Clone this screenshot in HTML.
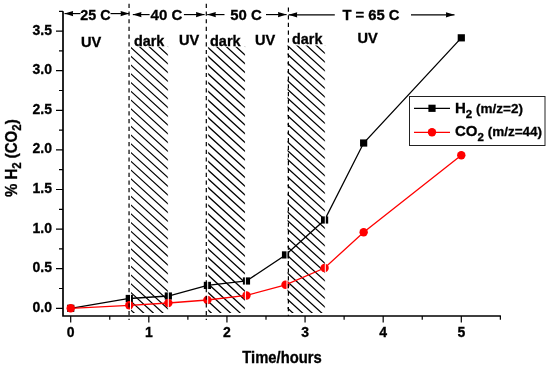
<!DOCTYPE html>
<html><head><meta charset="utf-8"><style>
html,body{margin:0;padding:0;background:#fff;width:550px;height:366px;overflow:hidden}
svg{display:block}
text{fill:#000;stroke:#000;stroke-width:0.3px}
</style></head><body>
<svg width="550" height="366" viewBox="0 0 550 366">
<rect width="550" height="366" fill="#fff"/>
<defs><clipPath id="c0"><rect x="130.5" y="46.8" width="37.80" height="266.20"/></clipPath><clipPath id="c1"><rect x="207.7" y="46.8" width="37.70" height="266.20"/></clipPath><clipPath id="c2"><rect x="287.0" y="45.6" width="38.30" height="267.40"/></clipPath></defs>
<path clip-path="url(#c0)" d="M129.50 2.54L169.30 38.76M129.50 11.29L169.30 47.51M129.50 20.04L169.30 56.26M129.50 28.79L169.30 65.01M129.50 37.54L169.30 73.76M129.50 46.29L169.30 82.51M129.50 55.04L169.30 91.26M129.50 63.79L169.30 100.01M129.50 72.54L169.30 108.76M129.50 81.29L169.30 117.51M129.50 90.04L169.30 126.26M129.50 98.79L169.30 135.01M129.50 107.54L169.30 143.76M129.50 116.29L169.30 152.51M129.50 125.04L169.30 161.26M129.50 133.79L169.30 170.01M129.50 142.54L169.30 178.76M129.50 151.29L169.30 187.51M129.50 160.04L169.30 196.26M129.50 168.79L169.30 205.01M129.50 177.54L169.30 213.76M129.50 186.29L169.30 222.51M129.50 195.04L169.30 231.26M129.50 203.79L169.30 240.01M129.50 212.54L169.30 248.76M129.50 221.29L169.30 257.51M129.50 230.04L169.30 266.26M129.50 238.79L169.30 275.01M129.50 247.54L169.30 283.76M129.50 256.29L169.30 292.51M129.50 265.04L169.30 301.26M129.50 273.79L169.30 310.01M129.50 282.54L169.30 318.76M129.50 291.29L169.30 327.51M129.50 300.04L169.30 336.26M129.50 308.79L169.30 345.01" stroke="#000" stroke-width="1.25" fill="none"/>
<path clip-path="url(#c1)" d="M206.70 2.54L246.40 38.67M206.70 11.29L246.40 47.42M206.70 20.04L246.40 56.17M206.70 28.79L246.40 64.92M206.70 37.54L246.40 73.67M206.70 46.29L246.40 82.42M206.70 55.04L246.40 91.17M206.70 63.79L246.40 99.92M206.70 72.54L246.40 108.67M206.70 81.29L246.40 117.42M206.70 90.04L246.40 126.17M206.70 98.79L246.40 134.92M206.70 107.54L246.40 143.67M206.70 116.29L246.40 152.42M206.70 125.04L246.40 161.17M206.70 133.79L246.40 169.92M206.70 142.54L246.40 178.67M206.70 151.29L246.40 187.42M206.70 160.04L246.40 196.17M206.70 168.79L246.40 204.92M206.70 177.54L246.40 213.67M206.70 186.29L246.40 222.42M206.70 195.04L246.40 231.17M206.70 203.79L246.40 239.92M206.70 212.54L246.40 248.67M206.70 221.29L246.40 257.42M206.70 230.04L246.40 266.17M206.70 238.79L246.40 274.92M206.70 247.54L246.40 283.67M206.70 256.29L246.40 292.42M206.70 265.04L246.40 301.17M206.70 273.79L246.40 309.92M206.70 282.54L246.40 318.67M206.70 291.29L246.40 327.42M206.70 300.04L246.40 336.17M206.70 308.79L246.40 344.92" stroke="#000" stroke-width="1.25" fill="none"/>
<path clip-path="url(#c2)" d="M286.00 0.44L326.30 37.11M286.00 9.19L326.30 45.86M286.00 17.94L326.30 54.61M286.00 26.69L326.30 63.36M286.00 35.44L326.30 72.11M286.00 44.19L326.30 80.86M286.00 52.94L326.30 89.61M286.00 61.69L326.30 98.36M286.00 70.44L326.30 107.11M286.00 79.19L326.30 115.86M286.00 87.94L326.30 124.61M286.00 96.69L326.30 133.36M286.00 105.44L326.30 142.11M286.00 114.19L326.30 150.86M286.00 122.94L326.30 159.61M286.00 131.69L326.30 168.36M286.00 140.44L326.30 177.11M286.00 149.19L326.30 185.86M286.00 157.94L326.30 194.61M286.00 166.69L326.30 203.36M286.00 175.44L326.30 212.11M286.00 184.19L326.30 220.86M286.00 192.94L326.30 229.61M286.00 201.69L326.30 238.36M286.00 210.44L326.30 247.11M286.00 219.19L326.30 255.86M286.00 227.94L326.30 264.61M286.00 236.69L326.30 273.36M286.00 245.44L326.30 282.11M286.00 254.19L326.30 290.86M286.00 262.94L326.30 299.61M286.00 271.69L326.30 308.36M286.00 280.44L326.30 317.11M286.00 289.19L326.30 325.86M286.00 297.94L326.30 334.61M286.00 306.69L326.30 343.36" stroke="#000" stroke-width="1.25" fill="none"/>
<polyline points="70.70,308.30 129.29,298.48 168.35,296.02 207.41,285.41 246.47,280.98 285.53,254.92 324.59,219.99 363.65,143.01 461.30,37.83" fill="none" stroke="#000" stroke-width="1.3"/>
<polyline points="70.70,308.30 129.29,305.29 168.35,302.99 207.41,299.98 246.47,295.47 285.53,284.78 324.59,267.99 363.65,232.19 461.30,155.29" fill="none" stroke="#ff0000" stroke-width="1.3"/>
<rect x="67.10" y="304.70" width="7.2" height="7.2" fill="#000"/>
<rect x="125.69" y="294.88" width="7.2" height="7.2" fill="#000"/>
<rect x="164.75" y="292.42" width="7.2" height="7.2" fill="#000"/>
<rect x="203.81" y="281.81" width="7.2" height="7.2" fill="#000"/>
<rect x="242.87" y="277.38" width="7.2" height="7.2" fill="#000"/>
<rect x="281.93" y="251.32" width="7.2" height="7.2" fill="#000"/>
<rect x="320.99" y="216.39" width="7.2" height="7.2" fill="#000"/>
<rect x="360.05" y="139.41" width="7.2" height="7.2" fill="#000"/>
<rect x="457.70" y="34.23" width="7.2" height="7.2" fill="#000"/>
<circle cx="70.70" cy="308.30" r="4.2" fill="#ff0000"/>
<circle cx="129.29" cy="305.29" r="4.2" fill="#ff0000"/>
<circle cx="168.35" cy="302.99" r="4.2" fill="#ff0000"/>
<circle cx="207.41" cy="299.98" r="4.2" fill="#ff0000"/>
<circle cx="246.47" cy="295.47" r="4.2" fill="#ff0000"/>
<circle cx="285.53" cy="284.78" r="4.2" fill="#ff0000"/>
<circle cx="324.59" cy="267.99" r="4.2" fill="#ff0000"/>
<circle cx="363.65" cy="232.19" r="4.2" fill="#ff0000"/>
<circle cx="461.30" cy="155.29" r="4.2" fill="#ff0000"/>
<line x1="130.5" y1="46.8" x2="130.5" y2="313.0" stroke="#fff" stroke-width="1"/>
<line x1="168.3" y1="46.8" x2="168.3" y2="313.0" stroke="#fff" stroke-width="1"/>
<line x1="207.7" y1="46.8" x2="207.7" y2="313.0" stroke="#fff" stroke-width="1"/>
<line x1="245.4" y1="46.8" x2="245.4" y2="313.0" stroke="#fff" stroke-width="1"/>
<line x1="287.0" y1="45.6" x2="287.0" y2="313.0" stroke="#fff" stroke-width="1"/>
<line x1="325.3" y1="45.6" x2="325.3" y2="313.0" stroke="#fff" stroke-width="1"/>
<line x1="129.05" y1="3.8" x2="129.05" y2="320" stroke="#000" stroke-width="1.2" stroke-dasharray="4.2 3.48"/>
<line x1="206.3" y1="3.8" x2="206.3" y2="320" stroke="#000" stroke-width="1.2" stroke-dasharray="4.2 3.48"/>
<line x1="288.4" y1="7.5" x2="288.4" y2="316" stroke="#000" stroke-width="1.2" stroke-dasharray="4.2 3.48"/>
<path d="M63 11.3V316.4M62.2 316H500.9" stroke="#000" stroke-width="1.7" fill="none"/>
<path d="M56 308.30H63M56 268.70H63M56 229.10H63M56 189.50H63M56 149.90H63M56 110.30H63M56 70.70H63M56 31.10H63M59 288.50H63M59 248.90H63M59 209.30H63M59 169.70H63M59 130.10H63M59 90.50H63M59 50.90H63M59 11.30H63M70.70 316V322.5M148.82 316V322.5M226.94 316V322.5M305.06 316V322.5M383.18 316V322.5M461.30 316V322.5M109.76 316V319.8M187.88 316V319.8M266.00 316V319.8M344.12 316V319.8M422.24 316V319.8M500.36 316V319.8" stroke="#000" stroke-width="1.2" fill="none"/>
<line x1="64.5" y1="13.6" x2="80.5" y2="13.6" stroke="#000" stroke-width="1.15"/><path d="M64.5 13.6L73.10 11.00L72.80 13.6L73.10 16.20Z" fill="#000"/>
<line x1="110.5" y1="13.6" x2="129.2" y2="13.6" stroke="#000" stroke-width="1.15"/><path d="M129.2 13.6L120.60 11.00L120.90 13.6L120.60 16.20Z" fill="#000"/>
<line x1="132.8" y1="14.6" x2="149.6" y2="14.6" stroke="#000" stroke-width="1.15"/><path d="M132.8 14.6L141.40 12.00L141.10 14.6L141.40 17.20Z" fill="#000"/>
<line x1="183.9" y1="14.6" x2="204.6" y2="14.6" stroke="#000" stroke-width="1.15"/><path d="M204.6 14.6L196.00 12.00L196.30 14.6L196.00 17.20Z" fill="#000"/>
<line x1="207.2" y1="14.6" x2="224.5" y2="14.6" stroke="#000" stroke-width="1.15"/><path d="M207.2 14.6L215.80 12.00L215.50 14.6L215.80 17.20Z" fill="#000"/>
<line x1="266" y1="14.6" x2="286.6" y2="14.6" stroke="#000" stroke-width="1.15"/><path d="M286.6 14.6L278.00 12.00L278.30 14.6L278.00 17.20Z" fill="#000"/>
<line x1="288.6" y1="14.8" x2="334.8" y2="14.8" stroke="#000" stroke-width="1.15"/><path d="M288.6 14.8L297.20 12.20L296.90 14.8L297.20 17.40Z" fill="#000"/>
<line x1="411" y1="14.8" x2="454.5" y2="14.8" stroke="#000" stroke-width="1.15"/><path d="M454.5 14.8L445.90 12.20L446.20 14.8L445.90 17.40Z" fill="#000"/>
<rect x="409.5" y="96.5" width="135.5" height="49" fill="#fff" stroke="#222" stroke-width="1"/>
<line x1="414" y1="108.3" x2="450" y2="108.3" stroke="#000" stroke-width="1.3"/>
<rect x="428.4" y="104.7" width="7.2" height="7.2" fill="#000"/>
<line x1="414" y1="132.3" x2="450" y2="132.3" stroke="#ff0000" stroke-width="1.3"/>
<circle cx="432" cy="132.3" r="4.2" fill="#ff0000"/>
<g>
<text transform="translate(52,311.70) scale(1,1.06)" text-anchor="end" style="font-family:'Liberation Sans',Arial,sans-serif;font-weight:bold;font-size:14px">0.0</text>
<text transform="translate(52,272.10) scale(1,1.06)" text-anchor="end" style="font-family:'Liberation Sans',Arial,sans-serif;font-weight:bold;font-size:14px">0.5</text>
<text transform="translate(52,232.50) scale(1,1.06)" text-anchor="end" style="font-family:'Liberation Sans',Arial,sans-serif;font-weight:bold;font-size:14px">1.0</text>
<text transform="translate(52,192.90) scale(1,1.06)" text-anchor="end" style="font-family:'Liberation Sans',Arial,sans-serif;font-weight:bold;font-size:14px">1.5</text>
<text transform="translate(52,153.30) scale(1,1.06)" text-anchor="end" style="font-family:'Liberation Sans',Arial,sans-serif;font-weight:bold;font-size:14px">2.0</text>
<text transform="translate(52,113.70) scale(1,1.06)" text-anchor="end" style="font-family:'Liberation Sans',Arial,sans-serif;font-weight:bold;font-size:14px">2.5</text>
<text transform="translate(52,74.10) scale(1,1.06)" text-anchor="end" style="font-family:'Liberation Sans',Arial,sans-serif;font-weight:bold;font-size:14px">3.0</text>
<text transform="translate(52,34.50) scale(1,1.06)" text-anchor="end" style="font-family:'Liberation Sans',Arial,sans-serif;font-weight:bold;font-size:14px">3.5</text>
<text transform="translate(70.70,337.2) scale(1,1.06)" text-anchor="middle" style="font-family:'Liberation Sans',Arial,sans-serif;font-weight:bold;font-size:14px">0</text>
<text transform="translate(148.82,337.2) scale(1,1.06)" text-anchor="middle" style="font-family:'Liberation Sans',Arial,sans-serif;font-weight:bold;font-size:14px">1</text>
<text transform="translate(226.94,337.2) scale(1,1.06)" text-anchor="middle" style="font-family:'Liberation Sans',Arial,sans-serif;font-weight:bold;font-size:14px">2</text>
<text transform="translate(305.06,337.2) scale(1,1.06)" text-anchor="middle" style="font-family:'Liberation Sans',Arial,sans-serif;font-weight:bold;font-size:14px">3</text>
<text transform="translate(383.18,337.2) scale(1,1.06)" text-anchor="middle" style="font-family:'Liberation Sans',Arial,sans-serif;font-weight:bold;font-size:14px">4</text>
<text transform="translate(461.30,337.2) scale(1,1.06)" text-anchor="middle" style="font-family:'Liberation Sans',Arial,sans-serif;font-weight:bold;font-size:14px">5</text>
<text transform="translate(282,363.1) scale(1,1.06)" text-anchor="middle" style="font-family:'Liberation Sans',Arial,sans-serif;font-weight:bold;font-size:14.8px">Time/hours</text>
<text transform="translate(16.5,158.2) rotate(-90) scale(1,1.07)" text-anchor="middle" style="font-family:'Liberation Sans',Arial,sans-serif;font-weight:bold;font-size:15px">% H<tspan dy="4.3" style="font-size:11.5px">2</tspan><tspan dy="-4.3"> (CO</tspan><tspan dy="4.3" style="font-size:11.5px">2</tspan><tspan dy="-4.3">)</tspan></text>
<text transform="translate(80.3,20.0) scale(1,1.06)" text-anchor="start" style="font-family:'Liberation Sans',Arial,sans-serif;font-weight:bold;font-size:14.3px">25 C</text>
<text transform="translate(150.6,20.4) scale(1,1.0)" text-anchor="start" style="font-family:'Liberation Sans',Arial,sans-serif;font-weight:bold;font-size:15px">40 C</text>
<text transform="translate(230.2,19.9) scale(1,1.0)" text-anchor="start" style="font-family:'Liberation Sans',Arial,sans-serif;font-weight:bold;font-size:14.9px">50 C</text>
<text transform="translate(342.4,20.1) scale(1,1.0)" text-anchor="start" style="font-family:'Liberation Sans',Arial,sans-serif;font-weight:bold;font-size:14.8px">T = 65 C</text>
<text transform="translate(81.0,46.5) scale(1,1.06)" text-anchor="start" style="font-family:'Liberation Sans',Arial,sans-serif;font-weight:bold;font-size:14.6px">UV</text>
<text transform="translate(133.9,46.3) scale(1,1.06)" text-anchor="start" style="font-family:'Liberation Sans',Arial,sans-serif;font-weight:bold;font-size:14.4px">dark</text>
<text transform="translate(178.9,45.4) scale(1,1.06)" text-anchor="start" style="font-family:'Liberation Sans',Arial,sans-serif;font-weight:bold;font-size:14.6px">UV</text>
<text transform="translate(210.0,46.0) scale(1,1.06)" text-anchor="start" style="font-family:'Liberation Sans',Arial,sans-serif;font-weight:bold;font-size:14.5px">dark</text>
<text transform="translate(255.0,45.0) scale(1,1.06)" text-anchor="start" style="font-family:'Liberation Sans',Arial,sans-serif;font-weight:bold;font-size:14.6px">UV</text>
<text transform="translate(292.0,44.3) scale(1,1.06)" text-anchor="start" style="font-family:'Liberation Sans',Arial,sans-serif;font-weight:bold;font-size:14.4px">dark</text>
<text transform="translate(357.4,43.3) scale(1,1.06)" text-anchor="start" style="font-family:'Liberation Sans',Arial,sans-serif;font-weight:bold;font-size:14.6px">UV</text>
<text x="455" y="113.2" style="font-family:'Liberation Sans',Arial,sans-serif;font-weight:bold;font-size:15px">H<tspan dy="4.5" style="font-size:11.5px">2</tspan><tspan dy="-4.5" style="font-size:13.5px"> (m/z=2)</tspan></text>
<text x="455" y="136.3" style="font-family:'Liberation Sans',Arial,sans-serif;font-weight:bold;font-size:15px">CO<tspan dy="4.5" style="font-size:11.5px">2</tspan><tspan dy="-4.5" style="font-size:13.5px"> (m/z=44)</tspan></text>
</g>
</svg>
</body></html>
